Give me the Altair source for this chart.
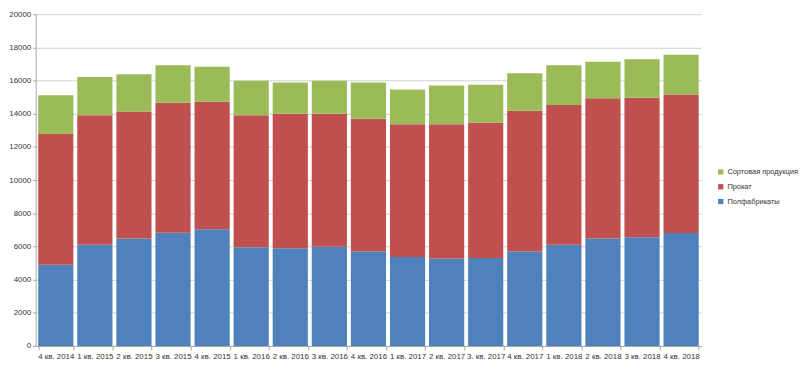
import altair as alt
import pandas as pd

quarters = ["4 кв. 2014", "1 кв. 2015", "2 кв. 2015", "3 кв. 2015", "4 кв. 2015",
            "1 кв. 2016", "2 кв. 2016", "3 кв. 2016", "4 кв. 2016", "1 кв. 2017",
            "2 кв. 2017", "3. кв. 2017", "4 кв. 2017", "1 кв. 2018", "2 кв. 2018",
            "3 кв. 2018", "4 кв. 2018"]

# cumulative tops
blue_top = [4890, 6100, 6480, 6830, 7035, 5945, 5885, 5980, 5695, 5370,
            5275, 5310, 5695, 6100, 6480, 6560, 6805]
red_top = [12780, 13910, 14140, 14660, 14720, 13910, 13990, 13990, 13700, 13360,
           13360, 13475, 14180, 14530, 14930, 14965, 15160]
total = [15120, 16210, 16385, 16920, 16825, 15980, 15885, 15980, 15885, 15465,
         15695, 15750, 16440, 16920, 17130, 17290, 17550]

polufabrikaty = blue_top
prokat = [r - b for r, b in zip(red_top, blue_top)]
sortovaya = [t - r for t, r in zip(total, red_top)]

series_names = ["Сортовая продукция", "Прокат", "Полфабрикаты"]
series_colors = ["#9BBB59", "#C0504D", "#4F81BD"]

rows = []
for i, q in enumerate(quarters):
    rows.append({"q": q, "s": "Полфабрикаты", "v": polufabrikaty[i], "o": 0})
    rows.append({"q": q, "s": "Прокат", "v": prokat[i], "o": 1})
    rows.append({"q": q, "s": "Сортовая продукция", "v": sortovaya[i], "o": 2})
df = pd.DataFrame(rows)

font = "Liberation Sans"

chart = alt.Chart(df).mark_bar().encode(
    x=alt.X("q:N", sort=quarters, title=None,
            scale=alt.Scale(paddingInner=0.1, paddingOuter=0.065),
            axis=alt.Axis(labelAngle=0, tickBand="extent", labelFontSize=8,
                          labelColor="#333333", labelFont=font, domainColor="#a6a6a6",
                          tickColor="#a6a6a6", tickSize=4, labelPadding=3,
                          grid=False)),
    y=alt.Y("v:Q", stack="zero", title=None,
            scale=alt.Scale(domain=[0, 20000], nice=False),
            axis=alt.Axis(values=list(range(0, 20001, 2000)), format="d", labelFontSize=8,
                          labelColor="#333333", labelFont=font, domainColor="#a6a6a6",
                          tickColor="#a6a6a6", tickSize=3, labelPadding=2,
                          gridColor="#cfcfcf", gridWidth=1)),
    color=alt.Color("s:N", scale=alt.Scale(domain=series_names, range=series_colors),
                    legend=alt.Legend(title=None, orient="none", legendX=690, legendY=156,
                                      padding=0, symbolType="square", symbolSize=28,
                                      symbolStrokeWidth=0,
                                      labelFontSize=7.5, labelFont=font, labelColor="#333333",
                                      rowPadding=6, labelOffset=3)),
    order=alt.Order("o:Q", sort="ascending"),
).properties(
    width=674, height=336,
    padding={"left": 0, "top": 0, "right": 0, "bottom": 0},
).configure_view(stroke=None).configure_axis(domainWidth=1)

chart.save("out.html", embed_options={"renderer": "svg", "actions": False})
